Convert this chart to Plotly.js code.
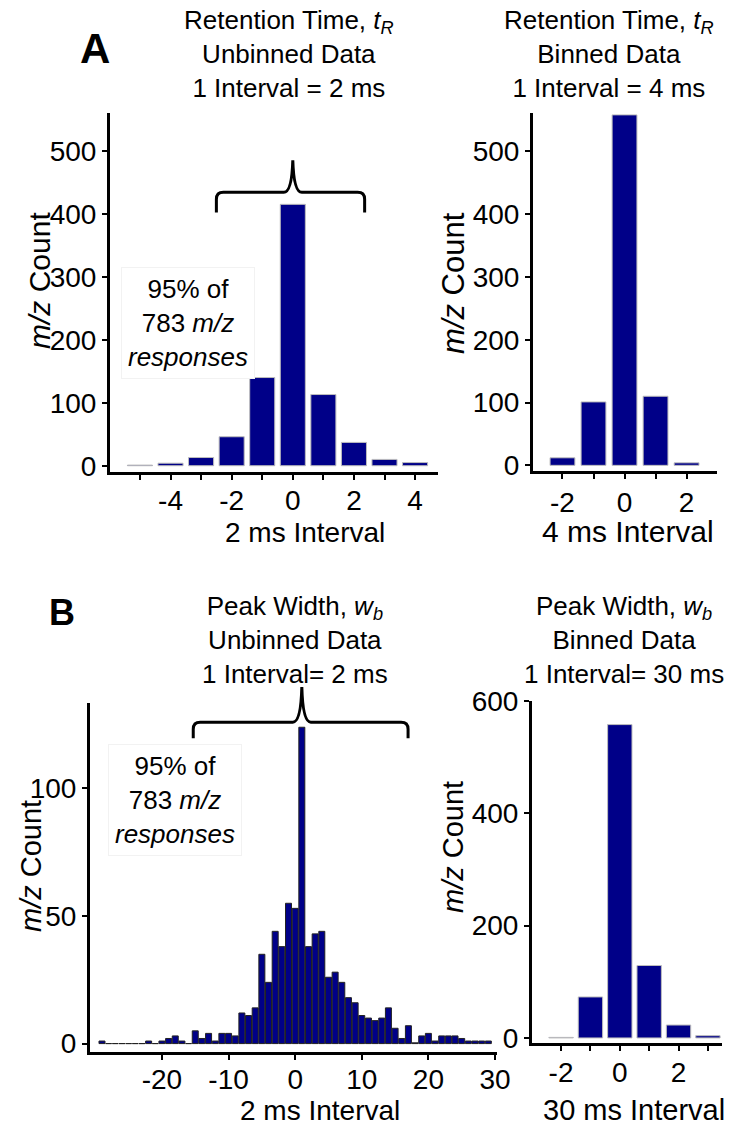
<!DOCTYPE html>
<html><head><meta charset="utf-8">
<script src="https://cdn.plot.ly/plotly-3.0.1.min.js"></script>
<style>html,body{margin:0;padding:0;background:#fff}#chart{width:730px;height:1126px}</style>
</head><body><div id="chart"></div>
<script>
// ---------- data ----------
const rtUnbinnedX = [-5, -4, -3, -2, -1, 0, 1, 2, 3, 4];
const rtUnbinnedCount = [1, 4, 13, 46, 140, 415, 113, 37, 10, 5];
const rtBinnedX = [-2, -1, 0, 1, 2];
const rtBinnedCount = [12, 101, 558, 110, 4];
const pwUnbinnedX = [-29, -28, -27, -26, -25, -24, -23, -22, -21, -20, -19, -18, -17, -16, -15, -14, -13, -12, -11, -10,
  -9, -8, -7, -6, -5, -4, -3, -2, -1, 0, 1, 2, 3, 4, 5, 6, 7, 8, 9, 10,
  11, 12, 13, 14, 15, 16, 17, 18, 19, 20, 21, 22, 23, 24, 25, 26, 27, 28, 29];
const pwUnbinnedCount = [1, 0, 0, 0, 0, 0, 0, 1, 0, 1, 2, 3, 1, 0, 5, 2, 4, 1, 4, 4,
  3, 12, 11, 14, 35, 24, 44, 38, 55, 53, 124, 38, 43, 44, 26, 28, 24, 18, 16, 11,
  10, 9, 10, 14, 6, 2, 7, 0.3, 3, 4, 1, 3, 3, 3, 2, 1, 1, 1, 1];
const pwBinnedX = [-2, -1, 0, 1, 2, 3];
const pwBinnedCount = [1, 73, 558, 129, 23, 4];

// tick labels (major) and unlabelled minor ticks
const rtUnbinnedTickVals = [-4, -2, 0, 2, 4];
const rtUnbinnedTickText = ['-4', '-2', '0', '2', '4'];
const rtUnbinnedMinorVals = [-5, -3, -1, 1, 3];
const rtBinnedTickVals = [-2, 0, 2];
const rtBinnedTickText = ['-2', '0', '2'];
const rtBinnedMinorVals = [-1, 1];
const pwUnbinnedTickVals = [-20, -10, 0, 10, 20, 30];
const pwUnbinnedTickText = ['-20', '-10', '0', '10', '20', '30'];
const pwBinnedTickVals = [-2, 0, 2];
const pwBinnedTickText = ['-2', '0', '2'];
const pwBinnedMinorVals = [-1, 1, 3];

// ---------- style ----------
const FONT = 'Liberation Sans, Arial, Helvetica, sans-serif';
const BAR = '#000088';
const W = 730, H = 1126;
const px = (x) => x / W;
const py = (y) => 1 - y / H;

function axis(extra) {
  return Object.assign({
    showline: true, linecolor: '#000', linewidth: 3,
    ticks: 'outside', ticklen: 5, tickwidth: 2, tickcolor: '#000',
    showgrid: false, zeroline: false, fixedrange: true,
    tickfont: {family: FONT, size: 28, color: '#000'}
  }, extra);
}
function minor(vals) {
  return {tickmode: 'array', tickvals: vals, ticks: 'outside', ticklen: 5, tickwidth: 2, tickcolor: '#000', showgrid: false};
}

const traces = [
  {type: 'bar', x: rtUnbinnedX, y: rtUnbinnedCount, xaxis: 'x', yaxis: 'y', width: 0.82,
   marker: {color: BAR, line: {color: '#bdbdbd', width: 1}}},
  {type: 'bar', x: rtBinnedX, y: rtBinnedCount, xaxis: 'x2', yaxis: 'y2', width: 0.8,
   marker: {color: BAR, line: {color: '#bdbdbd', width: 1}}},
  {type: 'bar', x: pwUnbinnedX, y: pwUnbinnedCount, xaxis: 'x3', yaxis: 'y3', width: 0.9,
   marker: {color: BAR, line: {color: '#222', width: 1}}},
  {type: 'bar', x: pwBinnedX, y: pwBinnedCount, xaxis: 'x4', yaxis: 'y4', width: 0.83,
   marker: {color: BAR, line: {color: '#bdbdbd', width: 1}}}
];

const layout = {
  width: W, height: H, showlegend: false,
  margin: {l: 0, r: 0, t: 0, b: 0},
  paper_bgcolor: '#fff', plot_bgcolor: '#fff',
  font: {family: FONT, color: '#000'},
  xaxis: axis({domain: [px(110), px(438)], range: [-5.98, 4.75], anchor: 'y',
    tickmode: 'array', tickvals: rtUnbinnedTickVals, ticktext: rtUnbinnedTickText,
    minor: minor(rtUnbinnedMinorVals), ticklabelstandoff: -3}),
  yaxis: axis({domain: [py(471.7), py(113)], range: [-9.5, 560], anchor: 'x', tick0: 0, dtick: 100}),
  xaxis2: axis({domain: [px(533), px(717)], range: [-2.95, 2.98], anchor: 'y2',
    tickmode: 'array', tickvals: rtBinnedTickVals, ticktext: rtBinnedTickText,
    minor: minor(rtBinnedMinorVals), ticklabelstandoff: -1}),
  yaxis2: axis({domain: [py(471), py(113)], range: [-9, 561], anchor: 'x2', tick0: 0, dtick: 100}),
  xaxis3: axis({domain: [px(90), px(497)], range: [-30.8, 30.3], anchor: 'y3',
    tickmode: 'array', tickvals: pwUnbinnedTickVals, ticktext: pwUnbinnedTickText, ticklabelstandoff: -5}),
  yaxis3: axis({domain: [py(1052), py(703)], range: [-3.3, 133.5], anchor: 'x3', tick0: 0, dtick: 50}),
  xaxis4: axis({domain: [px(532), px(722)], range: [-2.99, 3.48], anchor: 'y4',
    tickmode: 'array', tickvals: pwBinnedTickVals, ticktext: pwBinnedTickText,
    minor: minor(pwBinnedMinorVals), ticklabelstandoff: -3}),
  yaxis4: axis({domain: [py(1043), py(701)], range: [-9, 600], anchor: 'x4', tick0: 0, dtick: 200}),
  annotations: [],
  shapes: []
};

function ann(text, x, y, size, extra) {
  layout.annotations.push(Object.assign({
    text: text, xref: 'paper', yref: 'paper', x: px(x), y: py(y),
    xanchor: 'center', yanchor: 'middle', showarrow: false,
    font: {family: FONT, size: size, color: '#000'}
  }, extra || {}));
}

// panel letters
ann('<b>A</b>', 95, 48, 42);
ann('<b>B</b>', 62, 612, 36);
// panel titles
ann('Retention Time, <i>t</i><sub><i>R</i></sub><br>Unbinned Data<br>1 Interval = 2 ms', 289, 54, 26);
ann('Retention Time, <i>t</i><sub><i>R</i></sub><br>Binned Data<br>1 Interval = 4 ms', 609, 54, 26);
ann('Peak Width, <i>w</i><sub><i>b</i></sub><br>Unbinned Data<br>1 Interval= 2 ms', 295, 640, 26);
ann('Peak Width, <i>w</i><sub><i>b</i></sub><br>Binned Data<br>1 Interval= 30 ms', 624, 640, 26);
// axis titles
ann('2 ms Interval', 305, 532, 28);
ann('4 ms Interval', 628, 531, 30);
ann('2 ms Interval', 320, 1110, 28);
ann('30 ms Interval', 634, 1110, 29);
ann('<i>m/z</i> Count', 39, 281, 30, {textangle: -90});
ann('<i>m/z</i> Count', 454, 283, 31, {textangle: -90});
ann('<i>m/z</i> Count', 31, 866, 29, {textangle: -90});
ann('<i>m/z</i> Count', 453, 847, 29, {textangle: -90});
// 95% notes
ann('95% of<br>783 <i>m/z</i><br><i>responses</i>', 188, 323, 26,
  {bgcolor: '#fff', bordercolor: '#f2f2f2', borderwidth: 1, borderpad: 6});
ann('95% of<br>783 <i>m/z</i><br><i>responses</i>', 175, 800, 26,
  {bgcolor: '#fff', bordercolor: '#f2f2f2', borderwidth: 1, borderpad: 6});

// braces (positioned in data units, converted to paper)
function toPxX(ax, v) { const d = ax.domain, r = ax.range; return W * (d[0] + (v - r[0]) / (r[1] - r[0]) * (d[1] - d[0])); }
function toPxY(ax, v) { const d = ax.domain, r = ax.range; return H * (1 - (d[0] + (v - r[0]) / (r[1] - r[0]) * (d[1] - d[0]))); }
function brace(xa, ya, x0, x1, xm, yLine, yEnd, yTip) {
  const X0 = toPxX(xa, x0), X1 = toPxX(xa, x1), XM = toPxX(xa, xm);
  const YL = toPxY(ya, yLine), YE = toPxY(ya, yEnd), YT = toPxY(ya, yTip);
  const r = 7, rt = 9;
  const P = (x, y) => px(x).toFixed(5) + ',' + py(y).toFixed(5);
  const path = 'M' + P(X0, YE) + ' L' + P(X0, YL + r) + ' Q' + P(X0, YL) + ' ' + P(X0 + r, YL) +
    ' L' + P(XM - rt, YL) + ' Q' + P(XM - 1, YL) + ' ' + P(XM, YT) +
    ' Q' + P(XM + 1, YL) + ' ' + P(XM + rt, YL) +
    ' L' + P(X1 - r, YL) + ' Q' + P(X1, YL) + ' ' + P(X1, YL + r) + ' L' + P(X1, YE);
  layout.shapes.push({type: 'path', xref: 'paper', yref: 'paper', path: path,
    line: {color: '#000', width: 3}, layer: 'above'});
}
brace(layout.xaxis, layout.yaxis, -2.5, 2.35, 0, 434, 402, 485);
brace(layout.xaxis3, layout.yaxis3, -15.3, 16.95, 1.0, 126, 119.7, 139.8);

Plotly.newPlot('chart', traces, layout, {staticPlot: true, displayModeBar: false});
</script>
</body></html>
